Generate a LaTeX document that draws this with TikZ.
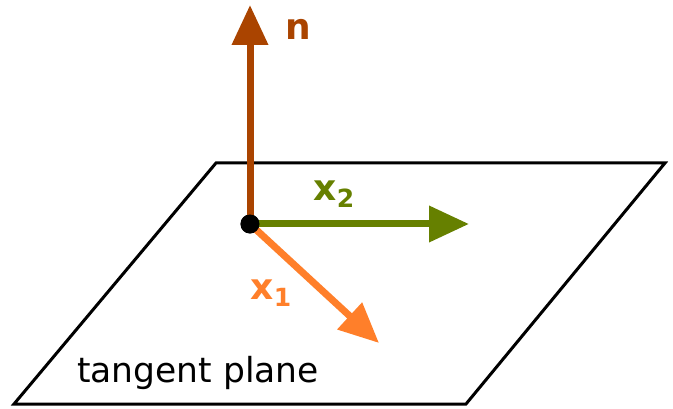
\documentclass[tikz,border=0pt]{standalone}
\usepackage{fontspec}
\setmainfont{DejaVu Sans}
\usetikzlibrary{arrows.meta}
\definecolor{tpbrown}{RGB}{170,68,0}
\definecolor{tpgreen}{RGB}{102,128,0}
\definecolor{tporange}{RGB}{255,127,42}
\newcommand{\vecsub}[2]{\textbf{#1}\raisebox{-0.35ex}{\fontsize{25}{28}\selectfont\textbf{#2}}}

\begin{document}
\begin{tikzpicture}[x=1pt,y=-1pt,
  vec/.style={line width=7pt,-{Triangle[length=40pt,width=35pt]}},
  lbl/.style={font=\fontsize{36}{40}\selectfont\bfseries,inner sep=0pt}]
  \useasboundingbox (0,0) rectangle (673,409);
  % tangent plane
  \draw[line width=3pt,line join=miter] (216,163) -- (665,163) -- (466,404) -- (14,404) -- cycle;
  \node[font=\fontsize{34.5}{40}\selectfont,inner sep=0pt,anchor=base west] (plane) at (77,382) {tangent plane};
  % point and vectors
  \node[circle,fill=black,minimum size=19pt,inner sep=0pt] (o) at (250,224) {};
  \coordinate (ntip) at (250,5);
  \coordinate (xtwotip) at (469,224);
  \coordinate (xonetip) at (379,343);
  \draw[vec,tpbrown] (o.center) -- (ntip);
  \draw[vec,tpgreen] (o.center) -- (xtwotip);
  \draw[vec,tporange] (o.center) -- (xonetip);
  \node[circle,fill=black,minimum size=19pt,inner sep=0pt] at (o) {};
  \node[lbl,tpbrown] (nlbl) at (298,29) {n};
  \node[lbl,tpgreen] (xtwolbl) at (334,194) {\vecsub{x}{2}};
  \node[lbl,tporange] (xonelbl) at (271,293) {\vecsub{x}{1}};
\end{tikzpicture}
\end{document}
